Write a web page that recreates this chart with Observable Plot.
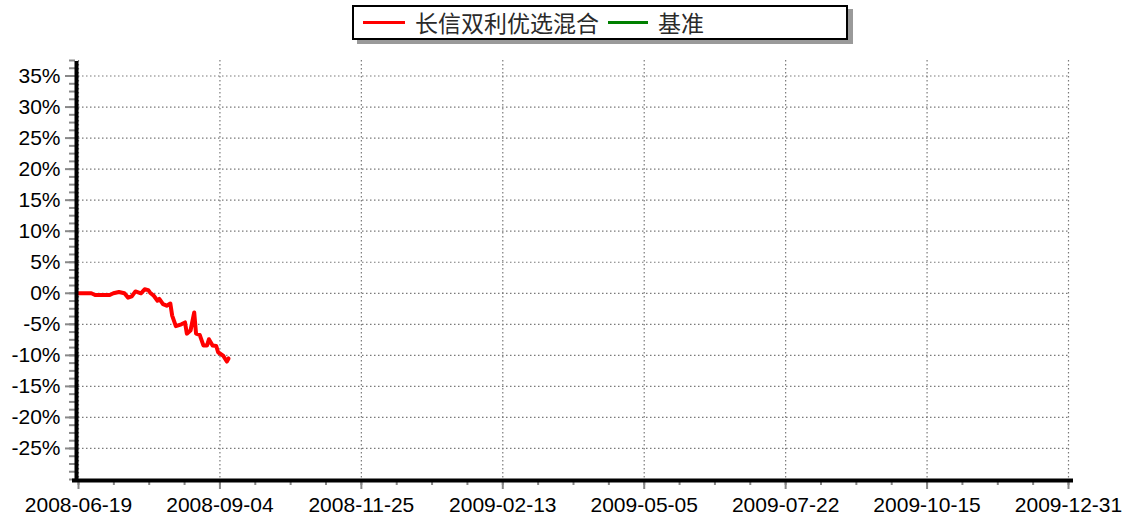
<!DOCTYPE html>
<html><head><meta charset="utf-8">
<script src="https://cdn.jsdelivr.net/npm/d3@7"></script>
<script src="https://cdn.jsdelivr.net/npm/@observablehq/plot@0.6"></script>
<style>
body{margin:0;background:#fff;}
#wrap{position:relative;width:1134px;height:524px;overflow:hidden;}
#legend{position:relative;height:48px;}
.box{position:absolute;left:352px;top:5px;width:492px;height:31px;border:2px solid #000;box-shadow:5px 4px 0 #9a9a9a;background:#fff;display:flex;align-items:center;font-family:"Noto Sans CJK SC";font-size:23px;color:#2a2a2a;line-height:1;}
.sw{display:inline-block;height:3px;width:42px;margin:0 10px 0 9px;}
</style></head>
<body>
<div id="wrap"><div id="legend"><div class="box" id="box"></div></div><div id="chart"></div></div>
<script>
const seriesNames = ["长信双利优选混合", "基准"];
const seriesColors = ["#ff0000", "#008000"];

const fundDates = ["2008-06-19","2008-06-26","2008-06-28","2008-07-06","2008-07-08","2008-07-11","2008-07-14","2008-07-16","2008-07-18","2008-07-20","2008-07-23","2008-07-25","2008-07-27","2008-07-28","2008-07-30","2008-08-01","2008-08-02","2008-08-04","2008-08-06","2008-08-08","2008-08-09","2008-08-11","2008-08-14","2008-08-16","2008-08-17","2008-08-19","2008-08-21","2008-08-22","2008-08-24","2008-08-26","2008-08-28","2008-08-29","2008-08-31","2008-09-02","2008-09-03","2008-09-06","2008-09-08","2008-09-09"];
const fundValues = [0, 0, -0.27, -0.27, 0, 0.2, 0, -0.7, -0.5, 0.3, 0, 0.64, 0.5, 0.1, -0.4, -1.2, -0.9, -1.76, -2.0, -1.65, -3.6, -5.3, -5.0, -4.7, -6.5, -6.0, -3.1, -6.5, -6.7, -8.4, -8.4, -7.4, -8.4, -8.5, -9.5, -10.1, -11.0, -10.5];

const xTickLabels = ["2008-06-19","2008-09-04","2008-11-25","2009-02-13","2009-05-05","2009-07-22","2009-10-15","2009-12-31"];
const yTickValues = [-25, -20, -15, -10, -5, 0, 5, 10, 15, 20, 25, 30, 35];
const yDomain = [-30, 37.5];

// legend
const box = document.getElementById("box");
seriesNames.forEach((n, i) => {
  const sw = document.createElement("span");
  sw.className = "sw";
  sw.style.background = seriesColors[i];
  if (i > 0) { sw.style.marginLeft = "9px"; sw.style.width = "40px"; }
  box.appendChild(sw);
  const t = document.createElement("span");
  t.textContent = n;
  box.appendChild(t);
});

const parse = d3.utcParse("%Y-%m-%d");
const xTicks = xTickLabels.map(parse);
const data = fundDates.map((d, i) => ({date: parse(d), value: fundValues[i]}));

// minor ticks: quarters of each major interval
const xMinor = [];
for (let i = 0; i < xTicks.length - 1; i++) {
  const a = +xTicks[i], b = +xTicks[i + 1];
  for (let k = 0; k < 4; k++) xMinor.push(new Date(a + (b - a) * k / 4));
}
xMinor.push(xTicks[xTicks.length - 1]);
const yMinor = d3.range(yDomain[0], yDomain[1] + 0.01, 1.25);

const grid = {stroke: "#7a7a7a", strokeOpacity: 1, strokeDasharray: "1.5,2.5", strokeWidth: 1.2};

const chart = Plot.plot({
  width: 1134,
  height: 476,
  marginTop: 12,
  marginBottom: 45,
  marginLeft: 78,
  marginRight: 66,
  style: {fontFamily: "'Liberation Sans', Arial, sans-serif", fontSize: "21px", background: "#fff"},
  x: {type: "utc", domain: xTicks, label: null},
  y: {domain: yDomain, label: null},
  marks: [
    Plot.gridY(yTickValues, grid),
    Plot.gridX(xTicks, grid),
    Plot.axisY(yMinor, {tickSize: 6, tickFormat: () => "", stroke: "#888", strokeWidth: 2, dx: -3, label: null}),
    Plot.axisY(yTickValues, {tickSize: 10, tickPadding: 5, stroke: "#888", strokeWidth: 2, fill: "#000", dx: -3, tickFormat: d => d + "%", label: null}),
    Plot.axisX(xMinor, {tickSize: 6, tickFormat: () => "", stroke: "#888", strokeWidth: 2, label: null}),
    Plot.axisX(xTicks, {tickSize: 10, tickPadding: 8, stroke: "#888", strokeWidth: 2, fill: "#000", tickFormat: d3.utcFormat("%Y-%m-%d"), label: null}),
    Plot.line(data, {x: "date", y: "value", stroke: seriesColors[0], strokeWidth: 4, strokeLinejoin: "round"}),
    Plot.ruleX([xTicks[0]], {y1: yDomain[0], y2: yDomain[1], stroke: "#000", strokeWidth: 4, dx: -2, dy: 1}),
    Plot.ruleY([yDomain[0]], {x1: xTicks[0], x2: xTicks[xTicks.length - 1], stroke: "#000", strokeWidth: 4, dy: 1, insetLeft: -6, insetRight: -5})
  ]
});
document.getElementById("chart").appendChild(chart);
</script>
</body></html>
